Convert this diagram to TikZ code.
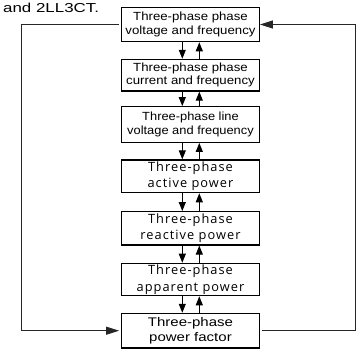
\documentclass[tikz,border=0pt]{standalone}
\usepackage{fontspec}
\setmainfont{Liberation Sans}
\newfontfamily\fArial{Liberation Sans}
\newfontfamily\fOpen{Open Sans}[LetterSpace=8]
\usetikzlibrary{arrows.meta}
\begin{document}
\begin{tikzpicture}[x=1pt,y=-1pt,
  box/.style={draw=black, line width=1.2pt, minimum width=137.6pt, inner sep=0pt, align=center},
  fa/.style={font={\fArial\fontsize{11.8}{13.4}\selectfont\addfontfeature{FakeStretch=1.12}}},
  fb/.style={font={\fArial\fontsize{11.8}{13.6}\selectfont\addfontfeature{FakeStretch=1.09}}},
  fc/.style={font={\fOpen\fontsize{12.8}{16.5}\selectfont}},
  fd/.style={font={\fArial\fontsize{12.5}{15.3}\selectfont\addfontfeature{FakeStretch=1.2}}},
  link/.style={line width=1pt, -{Triangle[length=9pt,width=7pt]}},
  loopline/.style={line width=1pt, draw=black!85},
  looptip/.style={-{Triangle[length=13pt,width=8pt]}}
]
\useasboundingbox (0,0) rectangle (361,349);
\node[anchor=base west, inner sep=0pt, font={\fArial\fontsize{13}{15}\selectfont\addfontfeature{FakeStretch=1.3}}] (note) at (3,12.5) {and 2LL3CT.};
\node[box, fa, minimum height=34.4pt] (b1) at (190.5,24.5) {Three-phase phase\\voltage and frequency};
\node[box, fa, minimum height=31.7pt] (b2) at (190.5,75.2) {Three-phase phase\\current and frequency};
\node[box, fb, minimum height=35.6pt] (b3) at (190.5,124.5) {Three-phase line\\voltage and frequency};
\node[box, fc, minimum height=32.7pt] (b4) at (190.5,176.3) {Three-phase\\active power};
\node[box, fc, minimum height=33.3pt] (b5) at (190.5,228.3) {Three-phase\\reactive power};
\node[box, fc, minimum height=32.4pt] (b6) at (190.5,279.5) {Three-phase\\apparent power};
\node[box, fd, minimum height=34.7pt] (b7) at (190.5,330.7) {Three-phase\\power factor};
\foreach \u/\v in {b1/b2,b2/b3,b3/b4,b4/b5,b5/b6,b6/b7}{
  \draw[link] ([xshift=-8.2pt]\u.south) -- ([xshift=-8.2pt]\v.north);
  \draw[link] ([xshift=8.8pt]\v.north) -- ([xshift=8.8pt]\u.south);
}
\coordinate (lt) at (21.7,24.5);
\coordinate (lb) at (21.7,330.7);
\coordinate (rt) at (355,24.5);
\coordinate (rb) at (355,330.7);
\draw[loopline, looptip] ([xshift=-2.5pt]b1.west) -- (lt) -- (lb) -- ([xshift=-2pt]b7.west);
\draw[loopline, looptip] ([xshift=2.5pt]b7.east) -- (rb) -- (rt) -- (b1.east);
\end{tikzpicture}
\end{document}
